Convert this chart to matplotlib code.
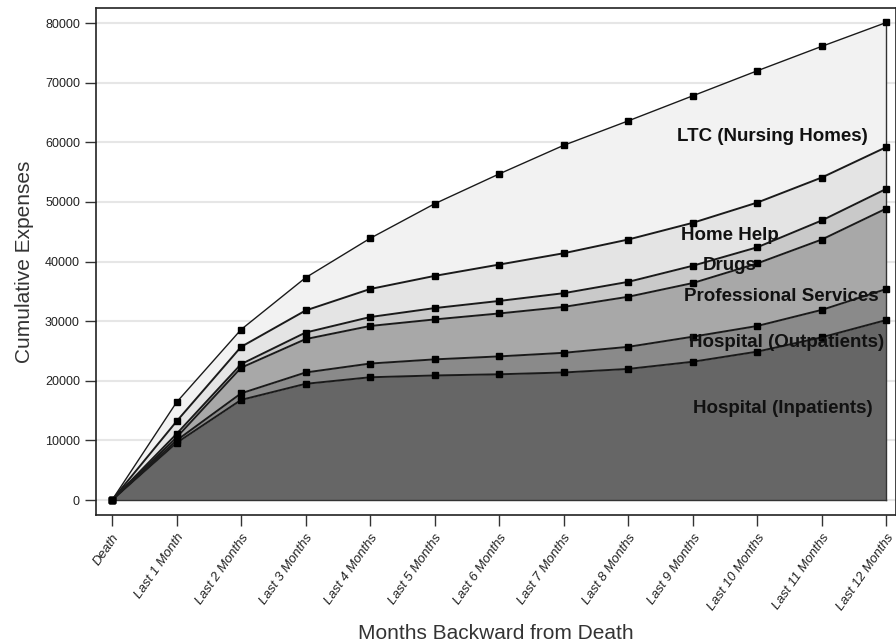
import matplotlib
matplotlib.use("Agg")
import matplotlib.pyplot as plt
import numpy as np

months = ["Death", "Last 1 Month", "Last 2 Months", "Last 3 Months", "Last 4 Months",
          "Last 5 Months", "Last 6 Months", "Last 7 Months", "Last 8 Months",
          "Last 9 Months", "Last 10 Months", "Last 11 Months", "Last 12 Months"]

# cumulative stacked totals (top of each band)
inpatients   = [0, 9600, 16800, 19500, 20600, 20900, 21100, 21400, 22000, 23200, 24900, 27300, 30200]
outpatients  = [0, 10000, 17900, 21400, 22900, 23600, 24100, 24700, 25700, 27400, 29200, 31900, 35400]
professional = [0, 10500, 22200, 27000, 29200, 30300, 31300, 32400, 34100, 36400, 39700, 43700, 48900]
drugs        = [0, 11100, 22800, 28100, 30700, 32200, 33400, 34700, 36600, 39300, 42400, 46900, 52200]
home_help    = [0, 13200, 25700, 31800, 35400, 37600, 39500, 41400, 43700, 46500, 49900, 54100, 59200]
ltc          = [0, 16400, 28600, 37300, 43900, 49700, 54700, 59500, 63600, 67800, 72000, 76100, 80100]

series = [inpatients, outpatients, professional, drugs, home_help, ltc]
names = ["Hospital (Inpatients)", "Hospital (Outpatients)", "Professional Services",
         "Drugs", "Home Help", "LTC (Nursing Homes)"]
fills = ["#666666", "#8a8a8a", "#a8a8a8", "#c9c9c9", "#e4e4e4", "#f2f2f2"]

plt.rcParams['font.family'] = ['Liberation Sans', 'DejaVu Sans']

fig = plt.figure(figsize=(8.96, 6.44), dpi=100)
ax = fig.add_axes([0.107, 0.2003, 0.893, 0.787])

x = np.arange(len(months))
lower = np.zeros(len(months))
for s, c in zip(series, fills):
    s = np.array(s, dtype=float)
    ax.fill_between(x, lower, s, color=c, linewidth=0, zorder=2)
    lower = s

for i, s in enumerate(series):
    lw = 1.0 if i == len(series) - 1 else 1.4
    ax.plot(x, s, color="#1a1a1a", linewidth=lw, marker="s", markersize=4.6,
            markerfacecolor="black", markeredgecolor="black", zorder=4)

ax.plot([x[-1], x[-1]], [0, ltc[-1]], color="#333333", linewidth=1.0, zorder=3)
ax.plot([x[0], x[-1]], [0, 0], color="#333333", linewidth=1.0, zorder=3)

label_pos = [(10.40, 15300), (10.45, 26500), (10.37, 34100), (9.57, 39400), (9.58, 44300), (10.23, 61000)]
for (lx, ly), n in zip(label_pos, names):
    ax.text(lx, ly, n, fontsize=13.5, fontweight="bold", ha="center", va="center",
            color="#111111", zorder=5)

ax.set_xlim(-0.25, 12.15)
ax.set_ylim(-2500, 82500)
ax.set_yticks(np.arange(0, 80001, 10000))
ax.set_yticklabels([str(v) for v in range(0, 80001, 10000)], fontsize=9, color="#222222")
ax.yaxis.grid(True, color="#e6e6e6", linewidth=1.5, zorder=0)
ax.set_axisbelow(True)
ax.set_xticks(x)
ax.set_xticklabels(months, rotation=55, ha="right", rotation_mode="anchor",
                   fontsize=9.5, style="italic", color="#222222")
ax.tick_params(axis="both", direction="out", length=8, width=1, color="#333333")
ax.tick_params(axis="x", pad=4)

for sp in ax.spines.values():
    sp.set_color("#222222")
    sp.set_linewidth(1.2)

ax.set_ylabel("Cumulative Expenses", fontsize=15, color="#333333", labelpad=8)
ax.set_xlabel("Months Backward from Death", fontsize=15, color="#333333", labelpad=8)

fig.savefig("out.png", dpi=100)
